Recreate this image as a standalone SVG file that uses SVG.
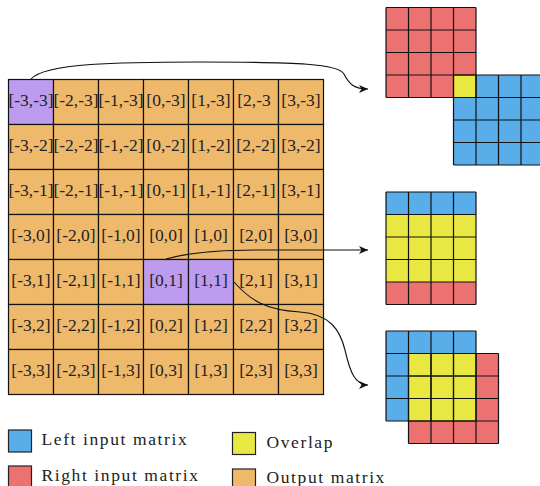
<svg xmlns="http://www.w3.org/2000/svg" width="540" height="486" viewBox="0 0 540 486">
  <style>
    .o { fill: #efb96b; }
    .p { fill: #bd9cef; }
    .b { fill: #59ade9; }
    .r { fill: #ec7171; }
    .y { fill: #e9e843; }
    .cell { stroke: #111; stroke-width: 1.2; }
    .lines { fill: none; stroke: #111; stroke-width: 1.2; }
    .lbl { font-family: "Liberation Serif", "DejaVu Serif", serif; font-size: 17.5px; fill: #222; text-anchor: middle; }
    .leg { font-family: "Liberation Serif", "DejaVu Serif", serif; font-size: 17.5px; fill: #222; letter-spacing: 1.6px; }
    .key { stroke: #222; stroke-width: 1.2; }
    .wire { fill: none; stroke: #111; stroke-width: 1.1; marker-end: url(#tip); }
  </style>
  <defs>
    <marker id="tip" markerUnits="userSpaceOnUse" markerWidth="12" markerHeight="10" refX="9" refY="4" orient="auto">
      <path d="M0,0 L9,4 L0,8 L2.5,4 z" fill="#111"/>
    </marker>
  </defs>

  <!-- output matrix: 7x7 grid of indices -->
  <g id="output-matrix">
    <g id="row-m3">
      <g id="c-m3-m3"><rect class="p cell" x="8.5" y="79.5" width="45" height="45"/><text class="lbl" x="31" y="106">[-3,-3]</text></g>
      <g id="c-m2-m3"><rect class="o cell" x="53.5" y="79.5" width="45" height="45"/><text class="lbl" x="76" y="106">[-2,-3]</text></g>
      <g id="c-m1-m3"><rect class="o cell" x="98.5" y="79.5" width="45" height="45"/><text class="lbl" x="121" y="106">[-1,-3]</text></g>
      <g id="c-0-m3"><rect class="o cell" x="143.5" y="79.5" width="45" height="45"/><text class="lbl" x="166" y="106">[0,-3]</text></g>
      <g id="c-1-m3"><rect class="o cell" x="188.5" y="79.5" width="45" height="45"/><text class="lbl" x="211" y="106">[1,-3]</text></g>
      <g id="c-2-m3"><rect class="o cell" x="233.5" y="79.5" width="45" height="45"/><text class="lbl" x="254" y="106">[2,-3</text></g>
      <g id="c-3-m3"><rect class="o cell" x="278.5" y="79.5" width="45" height="45"/><text class="lbl" x="301" y="106">[3,-3]</text></g>
    </g>
    <g id="row-m2">
      <g id="c-m3-m2"><rect class="o cell" x="8.5" y="124.5" width="45" height="45"/><text class="lbl" x="31" y="151">[-3,-2]</text></g>
      <g id="c-m2-m2"><rect class="o cell" x="53.5" y="124.5" width="45" height="45"/><text class="lbl" x="76" y="151">[-2,-2]</text></g>
      <g id="c-m1-m2"><rect class="o cell" x="98.5" y="124.5" width="45" height="45"/><text class="lbl" x="121" y="151">[-1,-2]</text></g>
      <g id="c-0-m2"><rect class="o cell" x="143.5" y="124.5" width="45" height="45"/><text class="lbl" x="166" y="151">[0,-2]</text></g>
      <g id="c-1-m2"><rect class="o cell" x="188.5" y="124.5" width="45" height="45"/><text class="lbl" x="211" y="151">[1,-2]</text></g>
      <g id="c-2-m2"><rect class="o cell" x="233.5" y="124.5" width="45" height="45"/><text class="lbl" x="256" y="151">[2,-2]</text></g>
      <g id="c-3-m2"><rect class="o cell" x="278.5" y="124.5" width="45" height="45"/><text class="lbl" x="301" y="151">[3,-2]</text></g>
    </g>
    <g id="row-m1">
      <g id="c-m3-m1"><rect class="o cell" x="8.5" y="169.5" width="45" height="45"/><text class="lbl" x="31" y="196">[-3,-1]</text></g>
      <g id="c-m2-m1"><rect class="o cell" x="53.5" y="169.5" width="45" height="45"/><text class="lbl" x="76" y="196">[-2,-1]</text></g>
      <g id="c-m1-m1"><rect class="o cell" x="98.5" y="169.5" width="45" height="45"/><text class="lbl" x="121" y="196">[-1,-1]</text></g>
      <g id="c-0-m1"><rect class="o cell" x="143.5" y="169.5" width="45" height="45"/><text class="lbl" x="166" y="196">[0,-1]</text></g>
      <g id="c-1-m1"><rect class="o cell" x="188.5" y="169.5" width="45" height="45"/><text class="lbl" x="211" y="196">[1,-1]</text></g>
      <g id="c-2-m1"><rect class="o cell" x="233.5" y="169.5" width="45" height="45"/><text class="lbl" x="256" y="196">[2,-1]</text></g>
      <g id="c-3-m1"><rect class="o cell" x="278.5" y="169.5" width="45" height="45"/><text class="lbl" x="301" y="196">[3,-1]</text></g>
    </g>
    <g id="row-0">
      <g id="c-m3-0"><rect class="o cell" x="8.5" y="214.5" width="45" height="45"/><text class="lbl" x="31" y="241">[-3,0]</text></g>
      <g id="c-m2-0"><rect class="o cell" x="53.5" y="214.5" width="45" height="45"/><text class="lbl" x="76" y="241">[-2,0]</text></g>
      <g id="c-m1-0"><rect class="o cell" x="98.5" y="214.5" width="45" height="45"/><text class="lbl" x="121" y="241">[-1,0]</text></g>
      <g id="c-0-0"><rect class="o cell" x="143.5" y="214.5" width="45" height="45"/><text class="lbl" x="166" y="241">[0,0]</text></g>
      <g id="c-1-0"><rect class="o cell" x="188.5" y="214.5" width="45" height="45"/><text class="lbl" x="211" y="241">[1,0]</text></g>
      <g id="c-2-0"><rect class="o cell" x="233.5" y="214.5" width="45" height="45"/><text class="lbl" x="256" y="241">[2,0]</text></g>
      <g id="c-3-0"><rect class="o cell" x="278.5" y="214.5" width="45" height="45"/><text class="lbl" x="301" y="241">[3,0]</text></g>
    </g>
    <g id="row-1">
      <g id="c-m3-1"><rect class="o cell" x="8.5" y="259.5" width="45" height="45"/><text class="lbl" x="31" y="286">[-3,1]</text></g>
      <g id="c-m2-1"><rect class="o cell" x="53.5" y="259.5" width="45" height="45"/><text class="lbl" x="76" y="286">[-2,1]</text></g>
      <g id="c-m1-1"><rect class="o cell" x="98.5" y="259.5" width="45" height="45"/><text class="lbl" x="121" y="286">[-1,1]</text></g>
      <g id="c-0-1"><rect class="p cell" x="143.5" y="259.5" width="45" height="45"/><text class="lbl" x="166" y="286">[0,1]</text></g>
      <g id="c-1-1"><rect class="p cell" x="188.5" y="259.5" width="45" height="45"/><text class="lbl" x="211" y="286">[1,1]</text></g>
      <g id="c-2-1"><rect class="o cell" x="233.5" y="259.5" width="45" height="45"/><text class="lbl" x="256" y="286">[2,1]</text></g>
      <g id="c-3-1"><rect class="o cell" x="278.5" y="259.5" width="45" height="45"/><text class="lbl" x="301" y="286">[3,1]</text></g>
    </g>
    <g id="row-2">
      <g id="c-m3-2"><rect class="o cell" x="8.5" y="304.5" width="45" height="45"/><text class="lbl" x="31" y="331">[-3,2]</text></g>
      <g id="c-m2-2"><rect class="o cell" x="53.5" y="304.5" width="45" height="45"/><text class="lbl" x="76" y="331">[-2,2]</text></g>
      <g id="c-m1-2"><rect class="o cell" x="98.5" y="304.5" width="45" height="45"/><text class="lbl" x="121" y="331">[-1,2]</text></g>
      <g id="c-0-2"><rect class="o cell" x="143.5" y="304.5" width="45" height="45"/><text class="lbl" x="166" y="331">[0,2]</text></g>
      <g id="c-1-2"><rect class="o cell" x="188.5" y="304.5" width="45" height="45"/><text class="lbl" x="211" y="331">[1,2]</text></g>
      <g id="c-2-2"><rect class="o cell" x="233.5" y="304.5" width="45" height="45"/><text class="lbl" x="256" y="331">[2,2]</text></g>
      <g id="c-3-2"><rect class="o cell" x="278.5" y="304.5" width="45" height="45"/><text class="lbl" x="301" y="331">[3,2]</text></g>
    </g>
    <g id="row-3">
      <g id="c-m3-3"><rect class="o cell" x="8.5" y="349.5" width="45" height="45"/><text class="lbl" x="31" y="376">[-3,3]</text></g>
      <g id="c-m2-3"><rect class="o cell" x="53.5" y="349.5" width="45" height="45"/><text class="lbl" x="76" y="376">[-2,3]</text></g>
      <g id="c-m1-3"><rect class="o cell" x="98.5" y="349.5" width="45" height="45"/><text class="lbl" x="121" y="376">[-1,3]</text></g>
      <g id="c-0-3"><rect class="o cell" x="143.5" y="349.5" width="45" height="45"/><text class="lbl" x="166" y="376">[0,3]</text></g>
      <g id="c-1-3"><rect class="o cell" x="188.5" y="349.5" width="45" height="45"/><text class="lbl" x="211" y="376">[1,3]</text></g>
      <g id="c-2-3"><rect class="o cell" x="233.5" y="349.5" width="45" height="45"/><text class="lbl" x="256" y="376">[2,3]</text></g>
      <g id="c-3-3"><rect class="o cell" x="278.5" y="349.5" width="45" height="45"/><text class="lbl" x="301" y="376">[3,3]</text></g>
    </g>
  </g>

  <!-- corner overlap: right input up-left, left input down-right -->
  <g id="overlap-corner">
    <rect class="r" x="386" y="7.5" width="90" height="90"/>
    <rect class="b" x="453.5" y="75" width="90" height="90"/>
    <rect class="y" x="453.5" y="75" width="22.5" height="22.5"/>
    <path class="lines" d="M386,7.5V97.5M408.5,7.5V97.5M431,7.5V97.5M453.5,7.5V97.5M476,7.5V97.5M386,7.5H476M386,30H476M386,52.5H476M386,75H476M386,97.5H476"/>
    <path class="lines" d="M453.5,75V165M476,75V165M498.5,75V165M521,75V165M543.5,75V165M453.5,75H543.5M453.5,97.5H543.5M453.5,120H543.5M453.5,142.5H543.5M453.5,165H543.5"/>
  </g>

  <!-- vertical shift: three overlapping rows -->
  <g id="overlap-rows">
    <rect class="b" x="386" y="192" width="90" height="22.5"/>
    <rect class="y" x="386" y="214.5" width="90" height="67.5"/>
    <rect class="r" x="386" y="282" width="90" height="22.5"/>
    <path class="lines" d="M386,192V304.5M408.5,192V304.5M431,192V304.5M453.5,192V304.5M476,192V304.5M386,192H476M386,214.5H476M386,237H476M386,259.5H476M386,282H476M386,304.5H476"/>
  </g>

  <!-- diagonal shift: 3x3 overlap -->
  <g id="overlap-diagonal">
    <rect class="b" x="386" y="331" width="90" height="90"/>
    <rect class="r" x="408.5" y="353.5" width="90" height="90"/>
    <rect class="y" x="408.5" y="353.5" width="67.5" height="67.5"/>
    <path class="lines" d="M386,331V421M408.5,331V421M431,331V421M453.5,331V421M476,331V421M386,331H476M386,353.5H476M386,376H476M386,398.5H476M386,421H476"/>
    <path class="lines" d="M408.5,353.5V443.5M431,353.5V443.5M453.5,353.5V443.5M476,353.5V443.5M498.5,353.5V443.5M408.5,353.5H498.5M408.5,376H498.5M408.5,398.5H498.5M408.5,421H498.5M408.5,443.5H498.5"/>
  </g>

  <!-- connectors -->
  <g id="connectors">
    <path class="wire" d="M31,79 C45,63 120,62 200,62 C300,62 338,64 344,74 C349,84 354,89 368,89"/>
    <path class="wire" d="M166,259 C190,252 220,250 260,250 L368,250"/>
    <path class="wire" d="M234,282 C250,300 265,310 300,312 C330,314 340,330 345,350 C350,372 355,385 368,385"/>
  </g>

  <!-- legend -->
  <g id="legend">
    <g id="key-left"><rect class="b key" x="8.5" y="430" width="23" height="22"/><text class="leg" x="41.5" y="444.5">Left input matrix</text></g>
    <g id="key-overlap"><rect class="y key" x="232.5" y="432.5" width="23" height="22"/><text class="leg" x="266.5" y="447.5">Overlap</text></g>
    <g id="key-right"><rect class="r key" x="8.5" y="466" width="23" height="22"/><text class="leg" x="41.5" y="480.5">Right input matrix</text></g>
    <g id="key-output"><rect class="o key" x="232.5" y="469" width="23" height="22"/><text class="leg" x="266.5" y="483">Output matrix</text></g>
  </g>
</svg>
